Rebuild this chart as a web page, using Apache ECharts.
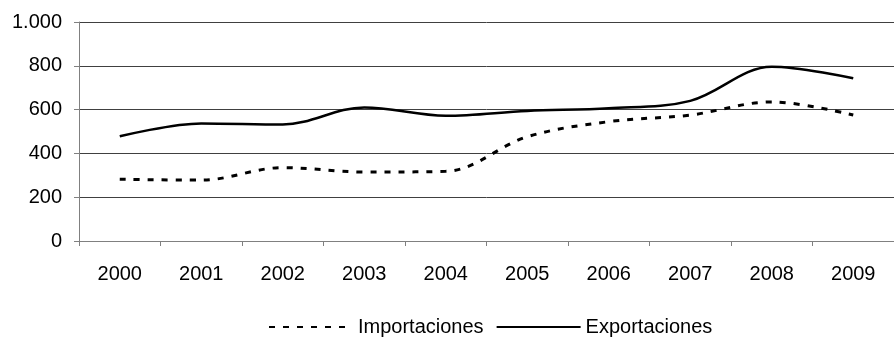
<!DOCTYPE html>
<html>
<head>
<meta charset="utf-8">
<script src="https://cdn.jsdelivr.net/npm/echarts@6/dist/echarts.min.js"></script>
<style>
  html, body { margin: 0; padding: 0; background: #fff; }
  #main { width: 894px; height: 339px; }
</style>
</head>
<body>
<div id="main"></div>
<script>
// años
var years = ['2000', '2001', '2002', '2003', '2004', '2005', '2006', '2007', '2008', '2009'];
var importaciones = [282, 278, 335, 315, 318, 476, 545, 575, 635, 575];
var exportaciones = [478, 537, 532, 610, 572, 594, 606, 640, 796, 743];
var yTicks = [0, 200, 400, 600, 800, 1000];

var myChart = echarts.init(document.getElementById('main'));

var option = {
  animation: false,
  backgroundColor: '#fff',
  textStyle: { fontFamily: 'Liberation Sans, Arial, sans-serif', color: '#000' },
  grid: { left: 79, top: 22, bottom: 98, right: -12 },
  legend: {
    left: 263,
    top: 312,
    itemWidth: 84,
    itemHeight: 10,
    itemGap: 12,
    itemStyle: { opacity: 0 },
    textStyle: { fontSize: 20, color: '#000' },
    data: ['Importaciones', 'Exportaciones']
  },
  xAxis: {
    type: 'category',
    data: years,
    boundaryGap: true,
    axisLine: { lineStyle: { color: '#808080', width: 1 } },
    axisTick: { show: true, length: 5, lineStyle: { color: '#808080' } },
    axisLabel: { fontSize: 20, color: '#000', margin: 23 }
  },
  yAxis: {
    type: 'value',
    min: yTicks[0],
    max: yTicks[yTicks.length - 1],
    interval: 200,
    axisLine: { show: true, lineStyle: { color: '#808080', width: 1 } },
    axisTick: { show: true, length: 5, lineStyle: { color: '#808080' } },
    axisLabel: {
      fontSize: 20,
      color: '#000',
      margin: 17,
      formatter: function (v) {
        return v >= 1000 ? (v / 1000) + '.' + ('00' + (v % 1000)).slice(-3) : v;
      }
    },
    splitLine: { lineStyle: { color: '#404040', width: 1 } }
  },
  series: [
    {
      name: 'Importaciones',
      type: 'line',
      data: importaciones,
      smooth: 0.35,
      symbol: 'none',
      color: '#000',
      lineStyle: { color: '#000', width: 3, type: [6, 8] }
    },
    {
      name: 'Exportaciones',
      type: 'line',
      data: exportaciones,
      smooth: 0.35,
      symbol: 'none',
      color: '#000',
      lineStyle: { color: '#000', width: 2.5 }
    }
  ]
};

myChart.setOption(option);
</script>
</body>
</html>
